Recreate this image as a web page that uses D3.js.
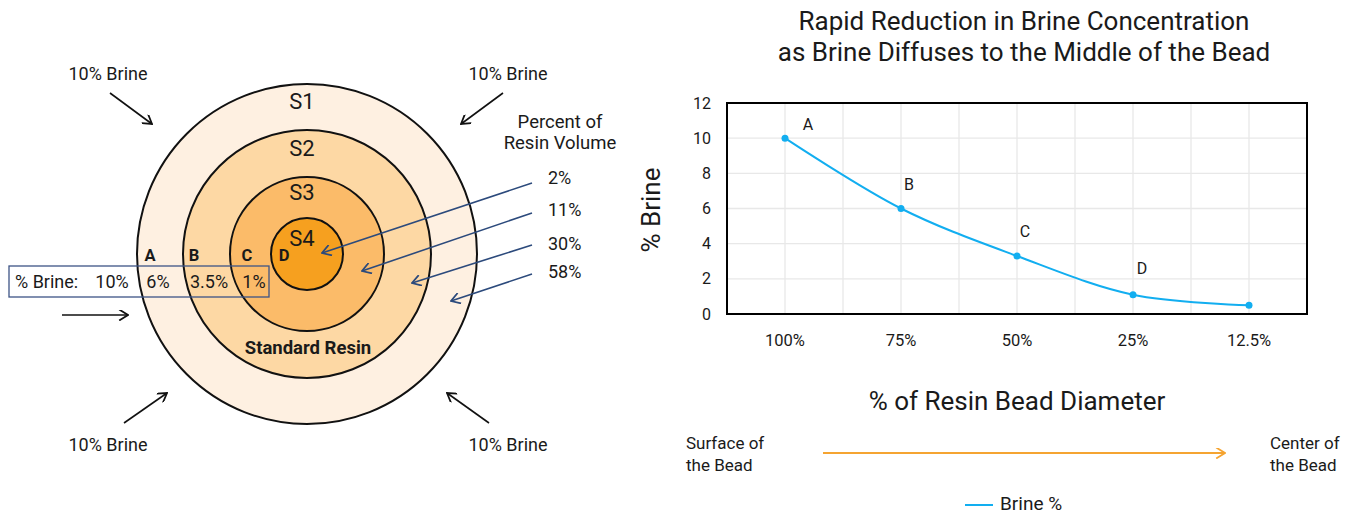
<!DOCTYPE html>
<html lang="en">
<head>
<meta charset="UTF-8">
<title>Brine diffusion</title>
<script src="https://cdn.jsdelivr.net/npm/d3@7"></script>
<style>
  body { margin: 0; background: #fff; }
  text { font-family: Roboto, "Noto Sans", sans-serif; fill: #1a1a1a; }
</style>
</head>
<body>
<script>
// bead diagram data
var shells = ["S1", "S2", "S3", "S4"];
var shellRadius = [170, 124, 77, 36];
var shellColors = ["#fef0e1", "#fdd8a4", "#fbbb69", "#f6a01f"];
var volumeLabels = ["2%", "11%", "30%", "58%"];
var zoneLabels = ["A", "B", "C", "D"];
var brineBox = ["10%", "6%", "3.5%", "1%"];

// line chart data
var categories = ["100%", "75%", "50%", "25%", "12.5%"];
var brineValues = [10, 6, 3.3, 1.1, 0.5];
var pointLabels = ["A", "B", "C", "D", ""];
var yTicks = [0, 2, 4, 6, 8, 10, 12];

var w = 1357, h = 516;
var svg = d3.select("body").append("svg").attr("width", w).attr("height", h);

var defs = svg.append("defs");
function marker(id, color) {
  defs.append("marker").attr("id", id)
    .attr("viewBox", "0 0 10 10").attr("refX", 9).attr("refY", 5)
    .attr("markerWidth", 11).attr("markerHeight", 11)
    .attr("markerUnits", "userSpaceOnUse")
    .attr("orient", "auto")
    .append("path").attr("d", "M1,0 L9,5 L1,10")
    .attr("fill", "none").attr("stroke", color).attr("stroke-width", 1.6);
}
marker("ablack", "#111");
marker("anavy", "#2c4a7c");
marker("aorange", "#f5a431");

// ---------- left: bead ----------
var cx = 307, cy = 254;
var bead = svg.append("g");

bead.selectAll("circle").data(shells).enter().append("circle")
  .attr("cx", cx).attr("cy", cy)
  .attr("r", function(d, i) { return shellRadius[i]; })
  .attr("fill", function(d, i) { return shellColors[i]; })
  .attr("stroke", "#111").attr("stroke-width", 2);

var shellLabelY = [101, 148, 192, 238];
bead.selectAll("text.shell").data(shells).enter().append("text")
  .attr("class", "shell")
  .attr("x", 302).attr("y", function(d, i) { return shellLabelY[i] + 8; })
  .attr("text-anchor", "middle").attr("font-size", 22)
  .text(function(d) { return d; });

bead.append("text").attr("x", 308).attr("y", 354)
  .attr("text-anchor", "middle").attr("font-size", 18.5).attr("font-weight", "bold")
  .text("Standard Resin");

var zoneX = [150, 194, 247, 284];
bead.selectAll("text.zone").data(zoneLabels).enter().append("text")
  .attr("class", "zone")
  .attr("x", function(d, i) { return zoneX[i]; }).attr("y", 261)
  .attr("text-anchor", "middle").attr("font-size", 16.5).attr("font-weight", "bold")
  .text(function(d) { return d; });

// % Brine box
bead.append("rect").attr("x", 9).attr("y", 266).attr("width", 260).attr("height", 31)
  .attr("fill", "none").attr("stroke", "#3d5486").attr("stroke-width", 1.3);
bead.append("text").attr("x", 15).attr("y", 288).attr("font-size", 18).text("% Brine:");
var boxX = [112, 158, 209, 254];
bead.selectAll("text.box").data(brineBox).enter().append("text")
  .attr("class", "box")
  .attr("x", function(d, i) { return boxX[i]; }).attr("y", 288)
  .attr("text-anchor", "middle").attr("font-size", 18)
  .text(function(d) { return d; });

// black arrows
var blackArrows = [
  [110, 93, 152, 124], [503, 93, 461, 124],
  [124, 423, 167, 393], [489, 423, 447, 393],
  [62, 315, 128, 315]
];
bead.selectAll("line.ba").data(blackArrows).enter().append("line")
  .attr("x1", function(d) { return d[0]; }).attr("y1", function(d) { return d[1]; })
  .attr("x2", function(d) { return d[2]; }).attr("y2", function(d) { return d[3]; })
  .attr("stroke", "#111").attr("stroke-width", 1.6).attr("marker-end", "url(#ablack)");

var brinePos = [[108, 80], [508, 80], [108, 451], [508, 451]];
bead.selectAll("text.brine").data(brinePos).enter().append("text")
  .attr("x", function(d) { return d[0]; }).attr("y", function(d) { return d[1]; })
  .attr("text-anchor", "middle").attr("font-size", 18).text("10% Brine");

// volume arrows
bead.append("text").attr("x", 560).attr("y", 128).attr("text-anchor", "middle")
  .attr("font-size", 18.5).text("Percent of");
bead.append("text").attr("x", 560).attr("y", 149).attr("text-anchor", "middle")
  .attr("font-size", 18.5).text("Resin Volume");

var volY = [183, 213, 245, 274];
var volEnd = [[322, 253], [362, 271], [412, 283], [451, 301]];
var volTextY = [184, 216, 250, 278];
bead.selectAll("line.va").data(volumeLabels).enter().append("line")
  .attr("x1", 532).attr("y1", function(d, i) { return volY[i]; })
  .attr("x2", function(d, i) { return volEnd[i][0]; })
  .attr("y2", function(d, i) { return volEnd[i][1]; })
  .attr("stroke", "#2c4a7c").attr("stroke-width", 1.6).attr("marker-end", "url(#anavy)");
bead.selectAll("text.vol").data(volumeLabels).enter().append("text")
  .attr("x", 548).attr("y", function(d, i) { return volTextY[i]; })
  .attr("font-size", 18).text(function(d) { return d; });

// ---------- right: line chart ----------
var pLeft = 727, pRight = 1307, pTop = 103, pBottom = 314;

var x = d3.scaleBand().domain(categories).range([pLeft, pRight]);
var y = d3.scaleLinear().domain([0, 12]).range([pBottom, pTop]);

var chart = svg.append("g");

// gridlines
var vgrid = d3.range(1, categories.length * 2).map(function(k) { return pLeft + k * x.bandwidth() / 2; });
chart.selectAll("line.vg").data(vgrid).enter().append("line")
  .attr("x1", function(d) { return d; }).attr("x2", function(d) { return d; })
  .attr("y1", pTop).attr("y2", pBottom)
  .attr("stroke", "#e8e8e8").attr("stroke-width", 1.3);
chart.selectAll("line.hg").data(yTicks).enter().append("line")
  .attr("x1", pLeft).attr("x2", pRight)
  .attr("y1", function(d) { return y(d); }).attr("y2", function(d) { return y(d); })
  .attr("stroke", "#e8e8e8").attr("stroke-width", 1.3);

chart.append("rect").attr("x", pLeft).attr("y", pTop)
  .attr("width", pRight - pLeft).attr("height", pBottom - pTop)
  .attr("fill", "none").attr("stroke", "#000").attr("stroke-width", 2);

// axes
var yAxis = chart.append("g").attr("transform", "translate(" + (pLeft - 16) + ",0)")
  .call(d3.axisLeft(y).tickValues(yTicks).tickSize(0).tickPadding(0));
yAxis.select(".domain").remove();
yAxis.selectAll("text").attr("font-size", 16).attr("font-family", "Roboto, sans-serif").attr("fill", "#1a1a1a");

var xAxis = chart.append("g").attr("transform", "translate(0," + (pBottom + 20) + ")")
  .call(d3.axisBottom(x).tickSize(0).tickPadding(0));
xAxis.select(".domain").remove();
xAxis.selectAll("text").attr("font-size", 16.5).attr("font-family", "Roboto, sans-serif").attr("fill", "#1a1a1a");

// line
var pts = categories.map(function(c, i) { return [x(c) + x.bandwidth() / 2, y(brineValues[i])]; });
chart.append("path").datum(pts)
  .attr("d", d3.line().curve(d3.curveCatmullRom.alpha(0.5)))
  .attr("fill", "none").attr("stroke", "#12aef0").attr("stroke-width", 2);
chart.selectAll("circle").data(pts).enter().append("circle")
  .attr("cx", function(d) { return d[0]; }).attr("cy", function(d) { return d[1]; })
  .attr("r", 3.5).attr("fill", "#12aef0");

var labelOff = [[23, -8], [8, -19], [8, -19], [9, -21], [0, 0]];
chart.selectAll("text.pl").data(pointLabels).enter().append("text")
  .attr("x", function(d, i) { return pts[i][0] + labelOff[i][0]; })
  .attr("y", function(d, i) { return pts[i][1] + labelOff[i][1]; })
  .attr("text-anchor", "middle").attr("font-size", 16)
  .text(function(d) { return d; });

// titles
chart.append("text").attr("x", 1024).attr("y", 30).attr("text-anchor", "middle")
  .attr("font-size", 26).text("Rapid Reduction in Brine Concentration");
chart.append("text").attr("x", 1024).attr("y", 61).attr("text-anchor", "middle")
  .attr("font-size", 26).text("as Brine Diffuses to the Middle of the Bead");
chart.append("text").attr("transform", "translate(660,210) rotate(-90)")
  .attr("text-anchor", "middle").attr("font-size", 26).text("% Brine");
chart.append("text").attr("x", 1017).attr("y", 410).attr("text-anchor", "middle")
  .attr("font-size", 26).text("% of Resin Bead Diameter");

// surface -> center
chart.append("text").attr("x", 686).attr("y", 449).attr("font-size", 17).text("Surface of");
chart.append("text").attr("x", 686).attr("y", 471).attr("font-size", 17).text("the Bead");
chart.append("text").attr("x", 1270).attr("y", 449).attr("font-size", 17).text("Center of");
chart.append("text").attr("x", 1270).attr("y", 471).attr("font-size", 17).text("the Bead");
chart.append("line").attr("x1", 823).attr("x2", 1225).attr("y1", 453).attr("y2", 453)
  .attr("stroke", "#f5a431").attr("stroke-width", 1.8).attr("marker-end", "url(#aorange)");

// legend
chart.append("line").attr("x1", 965).attr("x2", 993).attr("y1", 505).attr("y2", 505)
  .attr("stroke", "#12aef0").attr("stroke-width", 2);
chart.append("text").attr("x", 1000).attr("y", 510).attr("font-size", 19).text("Brine %");
</script>
</body>
</html>
